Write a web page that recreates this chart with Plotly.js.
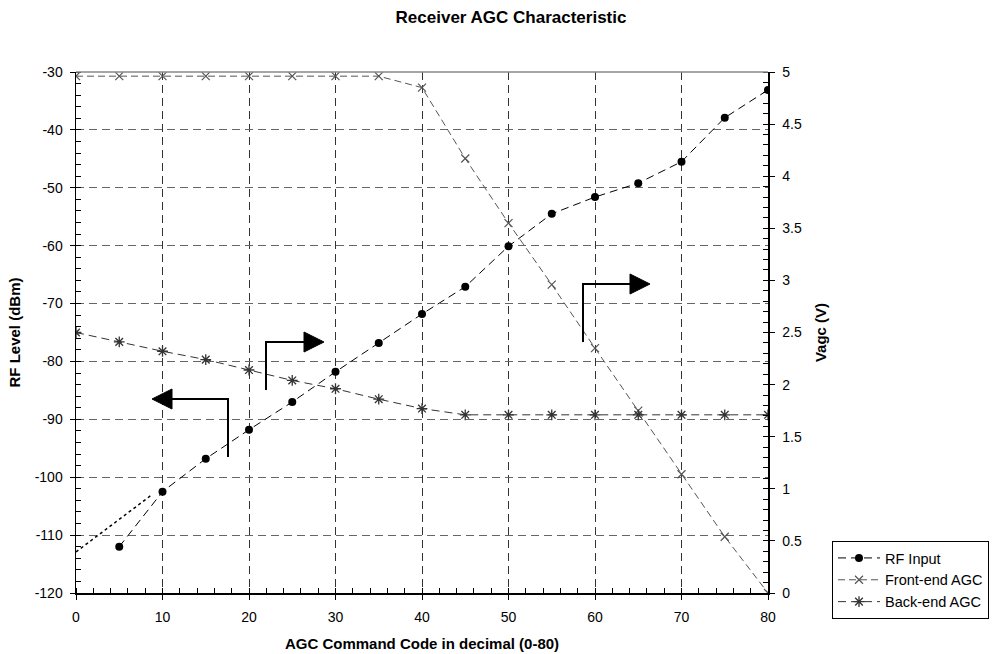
<!DOCTYPE html>
<html><head>
<meta charset="utf-8">
<script src="https://cdn.plot.ly/plotly-3.0.1.min.js"></script>
<style>body{margin:0;background:#fff}</style>
</head>
<body>
<div id="chart" style="width:993px;height:654px"></div>
<script>
// ---- data ----
const rfCodes = [5,10,15,20,25,30,35,40,45,50,55,60,65,70,75,80];
const rfInput = [-112.0,-102.5,-96.8,-91.8,-87.0,-81.8,-76.8,-71.8,-67.1,-60.1,-54.5,-51.6,-49.2,-45.5,-37.9,-33.1];
const agcCodes = [0,5,10,15,20,25,30,35,40,45,50,55,60,65,70,75,80];
const frontEndAgc = [4.96,4.96,4.96,4.96,4.96,4.96,4.96,4.96,4.85,4.17,3.55,2.96,2.35,1.75,1.14,0.54,0.0];
const backEndAgc = [2.50,2.41,2.32,2.24,2.14,2.04,1.96,1.86,1.77,1.71,1.71,1.71,1.71,1.71,1.71,1.71,1.71];
const trendCodes = [0, 8.8];
const trendRf = [-112.9, -103.0];
const seriesNames = ["RF Input","Front-end AGC","Back-end AGC"];
const rfTickVals = [-120,-110,-100,-90,-80,-70,-60,-50,-40,-30];
const rfTickText = ["-120","-110","-100","-90","-80","-70","-60","-50","-40","-30"];

const FONT = "Liberation Sans, Arial, sans-serif";

// pixel -> data helpers for decorative arrows (plot area 76..768 x 72..593)
const PL=76, PR=768, PT=72, PB=593;
const dx = px => (px-PL)/(PR-PL)*80;
const dy = py => -30 - (py-PT)/(PB-PT)*90;
function lPath(pts){ return pts.map((p,i)=>(i?'L':'M')+dx(p[0]).toFixed(3)+','+dy(p[1]).toFixed(3)).join(' '); }
const arrows = [
  {line:[[228,457],[228,399],[172,399]], head:[[152,399],[172,389],[172,409]]},
  {line:[[266,390],[266,342],[304,342]], head:[[324,342],[304,332],[304,352]]},
  {line:[[583,342],[583,284],[630,284]], head:[[650,284],[630,274],[630,294]]}
];
const shapes = [];
arrows.forEach(a=>{
  shapes.push({type:'path', xref:'x', yref:'y', path:lPath(a.line), line:{color:'#000', width:2}});
  shapes.push({type:'path', xref:'x', yref:'y', path:lPath(a.head)+' Z', fillcolor:'#000', line:{color:'#000', width:1}});
});
// top frame line
shapes.push({type:'line', xref:'paper', yref:'paper', x0:0, x1:1, y0:1, y1:1, line:{color:'#888', width:1.5}});

const traces = [
  {x:trendCodes, y:trendRf, mode:'lines', line:{color:'#000', width:1.5, dash:'dot'}, showlegend:false, hoverinfo:'skip'},
  {x:rfCodes, y:rfInput, name:seriesNames[0], mode:'lines+markers',
   line:{color:'#000', width:1, dash:'8px,5px'}, marker:{symbol:'circle', size:8, color:'#000'}},
  {x:agcCodes, y:frontEndAgc, name:seriesNames[1], yaxis:'y2', mode:'lines+markers',
   line:{color:'#555', width:1, dash:'7px,4px'}, marker:{symbol:'x-thin-open', size:8, color:'#555', line:{color:'#555', width:1.2}}},
  {x:agcCodes, y:backEndAgc, name:seriesNames[2], yaxis:'y2', mode:'lines+markers',
   line:{color:'#333', width:1, dash:'8px,5px'}, marker:{symbol:'asterisk-open', size:9, color:'#333', line:{color:'#333', width:1.3}}}
];

const layout = {
  width:993, height:654,
  margin:{l:PL, r:993-PR, t:PT, b:654-PB, pad:0, autoexpand:false},
  paper_bgcolor:'#fff', plot_bgcolor:'#fff',
  font:{family:FONT, size:14, color:'#000'},
  title:{text:'<b>Receiver AGC Characteristic</b>', x:511/993, xref:'container', xanchor:'center', y:1-17/654, yref:'container', yanchor:'middle', font:{size:17, family:FONT, color:'#000'}},
  showlegend:true,
  legend:{x:(832-PL)/(PR-PL), xanchor:'left', y:(PB-541)/(PB-PT), yanchor:'top',
          bordercolor:'#000', borderwidth:1, bgcolor:'#fff', font:{size:14.5, family:FONT}, tracegroupgap:0, itemwidth:42},
  xaxis:{range:[0,80], dtick:10, tick0:0, showline:true, linecolor:'#000', linewidth:1.5,
         ticks:'outside', ticklen:5, tickcolor:'#000', tickwidth:1, ticklabelstandoff:6,
         showgrid:true, gridcolor:'#333', griddash:'8px,5px', gridwidth:1, zeroline:false,
         minor:{dtick:2, ticks:'inside', ticklen:5, tickcolor:'#000', showgrid:false},
         tickfont:{size:14}, title:{text:'<b>AGC Command Code in decimal (0-80)</b>', standoff:14, font:{size:15}}},
  yaxis:{range:[-120,-30], tickmode:'array', tickvals:rfTickVals, ticktext:rfTickText, showline:true, linecolor:'#000', linewidth:1.5,
         ticks:'outside', ticklen:5, tickcolor:'#000', tickwidth:1, ticklabelstandoff:4,
         showgrid:true, gridcolor:'#666', griddash:'8px,5px', gridwidth:1, zeroline:false,
         minor:{dtick:2, ticks:'inside', ticklen:5, tickcolor:'#000', showgrid:false},
         tickfont:{size:14}, title:{text:'<b>RF Level (dBm)</b>', standoff:10, font:{size:15}}},
  yaxis2:{range:[0,5], dtick:0.5, tick0:0, overlaying:'y', side:'right', showline:true, linecolor:'#000', linewidth:1.5,
         ticks:'outside', ticklen:5, tickcolor:'#000', tickwidth:1, showgrid:false, zeroline:false, ticklabelstandoff:5,
         minor:{dtick:0.1, ticks:'inside', ticklen:5, tickcolor:'#000', showgrid:false},
         tickfont:{size:14}, title:{text:'<b>Vagc (V)</b>', standoff:14, font:{size:15}}},
  shapes:shapes
};

Plotly.newPlot('chart', traces, layout, {displayModeBar:false, staticPlot:true});
</script>
</body></html>
